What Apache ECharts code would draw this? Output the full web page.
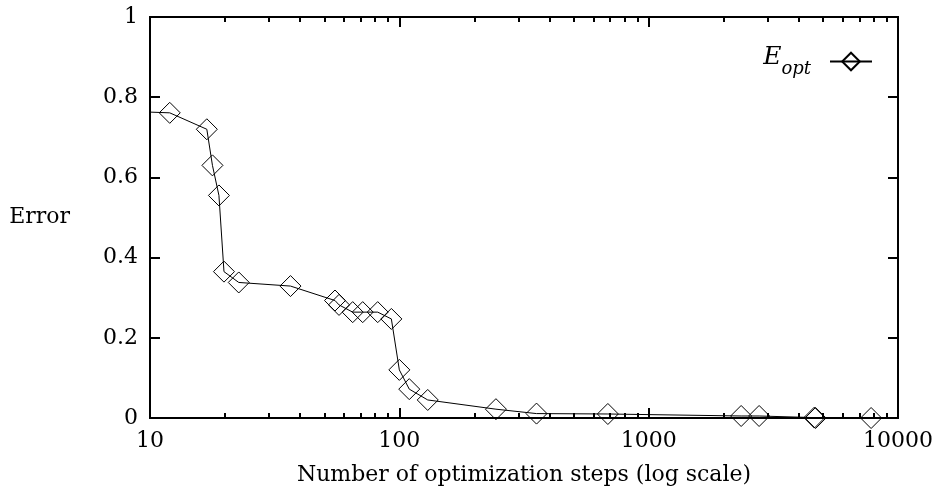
<!DOCTYPE html>
<html>
<head>
<meta charset="utf-8">
<script src="https://cdn.jsdelivr.net/npm/echarts@6/dist/echarts.min.js"></script>
<style>html,body{margin:0;padding:0;background:#fff}#c{width:936px;height:493px}</style>
</head>
<body>
<div id="c"></div>
<script>
// Data
var steps = [8, 12, 16.9, 17.8, 18.9, 19.8, 22.7, 36.6, 55.2, 57.3, 65.0, 71.3, 81.9, 92.9, 100, 109.6, 130, 244, 355, 686, 2349, 2773, 4620, 4670, 7800];
var errors = [0.765, 0.761, 0.72, 0.63, 0.555, 0.365, 0.338, 0.329, 0.293, 0.282, 0.264, 0.264, 0.264, 0.247, 0.12, 0.072, 0.045, 0.022, 0.011, 0.010, 0.005, 0.005, 0.001, 0.0, 0.0];
var seriesName = 'E_opt';
var xMajorTicks = [10, 100, 1000, 10000];
var xMinorTicks = [];
[10, 100, 1000].forEach(function (d) { for (var k = 2; k <= 9; k++) xMinorTicks.push(d * k); });
var yTicks = [0, 0.2, 0.4, 0.6, 0.8, 1];

var font = 'DejaVu Serif';
var chart = echarts.init(document.getElementById('c'));
var pts = steps.map(function (s, i) { return [s, errors[i]]; });

function xAx(pos, showLabel, ticks, len) {
  return {
    type: 'log', logBase: 10, min: 10, max: 10000, position: pos,
    axisLine: { show: true, onZero: false, lineStyle: { color: '#000', width: 2 } },
    axisTick: { show: true, inside: true, length: len, customValues: ticks, lineStyle: { color: '#000', width: 2 } },
    axisLabel: { show: showLabel, customValues: xMajorTicks, color: '#000', fontFamily: font, fontSize: 22, margin: 12,
      formatter: function (v) { return String(Math.round(v)); } },
    splitLine: { show: false }, minorTick: { show: false }
  };
}

var option = {
  backgroundColor: '#fff',
  animation: false,
  grid: { left: 150, right: 36, top: 17, bottom: 75, containLabel: false },
  legend: {
    right: 58, top: 40, align: 'right', itemWidth: 42, itemHeight: 22, itemGap: 5,
    data: [seriesName],
    formatter: function () { return '{e|E}{s|opt}'; },
    textStyle: {
      color: '#000', fontFamily: font,
      rich: {
        e: { fontStyle: 'italic', fontSize: 25, fontFamily: font, color: '#000', verticalAlign: 'top', padding: [0, 0, 8, 0] },
        s: { fontStyle: 'italic', fontSize: 18, fontFamily: font, color: '#000', verticalAlign: 'bottom', padding: [8, 14, 0, 0] }
      }
    }
  },
  xAxis: [
    Object.assign(xAx('bottom', true, xMajorTicks, 10), {
      name: 'Number of optimization steps (log scale)', nameLocation: 'middle', nameGap: 46,
      nameTextStyle: { color: '#000', fontFamily: font, fontSize: 22 }
    }),
    xAx('top', false, xMajorTicks, 10),
    xAx('bottom', false, xMinorTicks, 5),
    xAx('top', false, xMinorTicks, 5)
  ],
  yAxis: [
    {
      type: 'value', min: 0, max: 1, interval: 0.2, position: 'left',
      name: 'Error', nameLocation: 'middle', nameRotate: 0, nameGap: 80,
      nameTextStyle: { color: '#000', fontFamily: font, fontSize: 22, padding: [10, 0, 0, 0] },
      axisLine: { show: true, onZero: false, lineStyle: { color: '#000', width: 2 } },
      axisTick: { show: true, inside: true, length: 10, lineStyle: { color: '#000', width: 2 } },
      axisLabel: { color: '#000', fontFamily: font, fontSize: 22, margin: 12 },
      splitLine: { show: false }
    },
    {
      type: 'value', min: 0, max: 1, interval: 0.2, position: 'right',
      axisLine: { show: true, onZero: false, lineStyle: { color: '#000', width: 2 } },
      axisTick: { show: true, inside: true, length: 10, lineStyle: { color: '#000', width: 2 } },
      axisLabel: { show: false }, splitLine: { show: false }
    }
  ],
  series: [{
    name: seriesName, type: 'line', data: pts, clip: true,
    xAxisIndex: 0, yAxisIndex: 0,
    symbol: 'diamond', symbolSize: 21, showAllSymbol: true,
    lineStyle: { color: '#000', width: 1 },
    itemStyle: { color: 'rgba(0,0,0,0)', borderColor: '#000', borderWidth: 1 }
  }]
};
chart.setOption(option);
</script>
</body>
</html>
